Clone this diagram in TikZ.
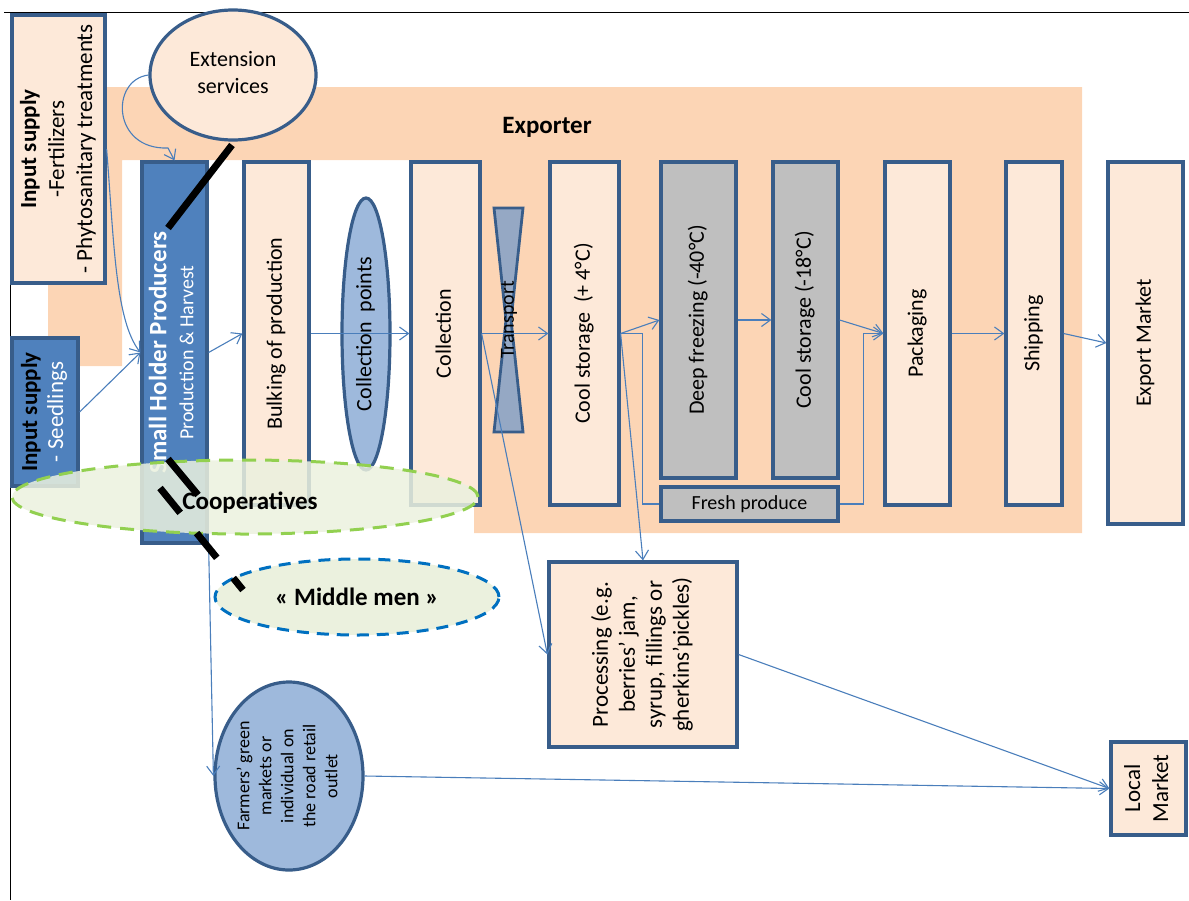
\documentclass[tikz,border=0pt]{standalone}
\usepackage{fontspec}
\setmainfont{Carlito}
\usepackage{xcolor}
\usepackage{graphicx}
\usepackage{tikz}
\usetikzlibrary{positioning,arrows.meta,shapes.geometric}
\definecolor{exportbg}{HTML}{FCD5B5}
\definecolor{boxfill}{HTML}{FDE9D9}
\definecolor{boxline}{HTML}{385D8A}
\definecolor{linkcolor}{HTML}{4A7EBB}
\definecolor{prodblue}{HTML}{4F81BD}
\definecolor{lightblue}{HTML}{9EB9DC}
\definecolor{coldgray}{HTML}{BFBFBF}
\definecolor{transportfill}{HTML}{95A8C4}
\definecolor{coopfill}{HTML}{EBF1DE}
\definecolor{coopline}{HTML}{92D050}
\definecolor{midline}{HTML}{0070C0}
\newcommand{\vtext}[1]{\rotatebox{90}{\begin{tabular}{@{}c@{}}#1\end{tabular}}}
\tikzset{
    chain box/.style={rectangle, draw=boxline, line width=3.2pt, fill=boxfill, inner sep=0pt},
    cold box/.style={chain box, fill=coldgray},
    producer box/.style={chain box, fill=prodblue},
    actor bubble/.style={ellipse, draw=boxline, line width=3.2pt, fill=lightblue, inner sep=0pt},
    group bubble/.style={ellipse, line width=3pt, fill=coopfill, inner sep=0pt, dash pattern=on 14pt off 9pt},
    chain arrow/.style={-{Straight Barb[length=9pt,width=13pt]}, line width=1.1pt, linkcolor},
    chain link/.style={line width=1.1pt, linkcolor},
    cut mark/.style={line width=7pt, black}
}

\begin{document}
\begin{tikzpicture}[x=1pt, y=-1pt, every node/.style={font=\fontsize{22}{27}\selectfont}]
    \useasboundingbox (0,0) rectangle (1189,900);

    % Page frame
    \draw[line width=0.8pt] (4,12) -- (1189,12);
    \draw[line width=0.8pt] (10,12) -- (10,900);

    % Exporter area
    \fill[exportbg] (48,87) -- (1082,87) -- (1082,533) -- (474,533) -- (474,160)
        -- (122,160) -- (122,366) -- (48,366) -- cycle;
    \node[font=\bfseries\fontsize{25}{30}\selectfont] (exporter) at (547,127) {Exporter};

    % Inputs and support
    \node[chain box, minimum width=93, minimum height=268, font=\fontsize{23}{28}\selectfont] (inputs) at (58.5,149)
        {\vtext{\textbf{Input supply}\\-Fertilizers\\- Phytosanitary treatments}};
    \node[producer box, minimum width=66, minimum height=148, font=\fontsize{23}{26}\selectfont] (seedlings) at (45,412)
        {\vtext{\textbf{Input supply}\\\textcolor{white}{- Seedlings}}};
    \node[ellipse, draw=boxline, line width=3.2pt, fill=boxfill, minimum width=166, minimum height=130, inner sep=0pt] (extension) at (233,75)
        {\begin{tabular}{@{}c@{}}Extension\\services\end{tabular}};

    % Producers
    \node[producer box, minimum width=65, minimum height=381, text=white] (producers) at (174.5,352.5)
        {\vtext{\fontsize{25}{24}\selectfont\textbf{Small Holder Producers}\\\fontsize{20}{22}\selectfont Production \& Harvest}};

    % Collection chain
    \node[chain box, minimum width=65, minimum height=343] (bulking) at (276.5,333.5) {\vtext{Bulking of production}};
    \node[actor bubble, minimum width=48, minimum height=272] (points) at (366,334) {\vtext{Collection~ points}};
    \node[chain box, minimum width=69, minimum height=343] (collection) at (445.5,333.5) {\vtext{Collection}};

    % Transport
    \filldraw[fill=transportfill, draw=boxline, line width=2.8pt] (494,208) -- (523,208) -- (511,320)
        -- (523,432) -- (494,432) -- (506,320) -- cycle;
    \node[font=\fontsize{20}{24}\selectfont] (transport) at (509,320) {\vtext{Transport}};

    % Cold chain
    \node[chain box, minimum width=69, minimum height=343] (cool4) at (584.5,333.5) {\vtext{Cool storage~ (+ 4°C)}};
    \node[cold box, minimum width=75, minimum height=316] (freezing) at (698.5,320) {\vtext{Deep freezing (-40°C)}};
    \node[cold box, minimum width=65, minimum height=316] (cool18) at (805.5,320) {\vtext{Cool storage (-18°C)}};
    \node[cold box, minimum width=177, minimum height=34, font=\fontsize{20}{24}\selectfont] (fresh) at (749.5,504) {Fresh produce};
    \node[chain box, minimum width=65, minimum height=343] (packaging) at (917.5,333.5) {\vtext{Packaging}};
    \node[chain box, minimum width=56, minimum height=343] (shipping) at (1034,333.5) {\vtext{Shipping}};
    \node[chain box, minimum width=75, minimum height=362] (export) at (1145.5,343) {\vtext{Export Market}};

    % Local outlets
    \node[chain box, minimum width=188, minimum height=185, font=\fontsize{23}{27}\selectfont] (processing) at (643,654.5)
        {\vtext{Processing (e.g.\\berries’ jam,\\syrup, fillings or\\gherkins’pickles)}};
    \node[chain box, minimum width=75, minimum height=93, font=\fontsize{23}{28}\selectfont] (local) at (1148.5,788.5)
        {\vtext{Local\\Market}};
    \node[actor bubble, minimum width=148, minimum height=188,
        label={[font=\fontsize{18}{22}\selectfont]center:\vtext{Farmers’ green\\markets or\\individual on\\the road retail\\outlet}}] (farmers) at (289,776) {};

    % Flows
    \draw[chain arrow] (extension.west) .. controls (110,80) and (112,150) .. (168,148) -- (producers.north);
    \draw[chain arrow] (inputs.east) .. controls (114,240) and (115,320) .. (producers.west);
    \draw[chain arrow] (seedlings.east) -- (producers.west);
    \draw[chain arrow] (producers.east) -- (bulking.west);
    \draw[chain arrow] (bulking.east) -- (collection.west);
    \draw[chain arrow] (collection.east) -- (cool4.west);
    \draw[chain arrow] (collection.east) -- (processing.west);
    \draw[chain arrow] (cool4.east) -- (freezing.west);
    \draw[chain arrow] (cool4.east) -- (processing.north);
    \draw[chain link] (cool4.east) -- ++(22,0) |- (fresh.west);
    \draw[chain arrow] (freezing.east) -- (cool18.west);
    \draw[chain arrow] (cool18.east) -- (packaging.west);
    \draw[chain arrow] (fresh.east) -- ++(24,0) |- (packaging.west);
    \draw[chain arrow] (packaging.east) -- (shipping.west);
    \draw[chain arrow] (shipping.east) -- (export.west);
    \draw[chain arrow] (processing.east) -- (local.west);
    \draw[chain arrow] (producers.south east) -- (farmers.west);
    \draw[chain arrow] (farmers.east) -- (local.west);

    % Intermediaries
    \node[group bubble, draw=coopline, fill opacity=0.85, minimum width=466, minimum height=74] (coops) at (245,497) {};
    \node[font=\bfseries\fontsize{25}{30}\selectfont] (coopstext) at (250,503) {Cooperatives};
    \node[group bubble, draw=midline, minimum width=284, minimum height=76, dash pattern=on 12pt off 8pt,
        font=\bfseries\fontsize{25}{30}\selectfont] (middlemen) at (357,597) {« Middle men »};

    % Black markers
    \draw[cut mark] (232,145) -- (168,228);
    \draw[cut mark] (168,459) -- (198,495);
    \draw[cut mark, dash pattern=on 32pt off 26pt] (160,488) -- (243,590);
\end{tikzpicture}
\end{document}
